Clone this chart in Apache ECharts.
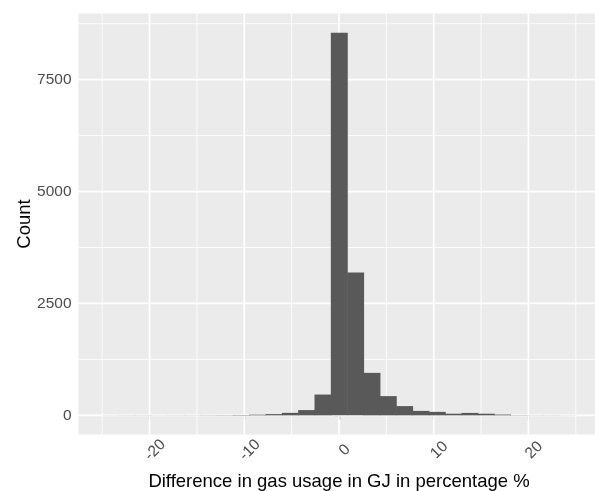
<!DOCTYPE html>
<html><head><meta charset="utf-8">
<script src="https://cdn.jsdelivr.net/npm/echarts@6/dist/echarts.min.js"></script>
<style>html,body{margin:0;padding:0;background:#fff}#c{width:595px;height:491px}</style>
</head><body><div id="c"></div>
<script>
// Histogram bins: range and counts per bin
const binMin = -25, binMax = 25;
const counts = [2, 3, 3, 2, 3, 3, 4, 5, 8, 15, 28, 56, 118, 465, 8550, 3190, 950, 430, 207, 100, 78, 37, 55, 37, 18, 5, 3, 3, 2];
// Axis ticks / grid
const xTicks = [-20, -10, 0, 10, 20];
const xMinorGrid = [-25, -15, -5, 5, 15, 25];
const yTicks = [0, 2500, 5000, 7500];
const yMinorGrid = [1250, 3750, 6250, 8750];
const xLimits = [-27.5, 27.5];
const yLimits = [-427.5, 8977.5];

const FONT = 'Liberation Sans, Arial, sans-serif';
const binW = (binMax - binMin) / counts.length;
const barData = counts.map((c, i) => [binMin + i * binW, binMin + (i + 1) * binW, c]);

const vGrid = xTicks.map(v => [v, 0, 1.7]).concat(xMinorGrid.map(v => [v, 0, 0.85]));
const hGrid = yTicks.map(v => [0, v, 1.7]).concat(yMinorGrid.map(v => [0, v, 0.85]));

const chart = echarts.init(document.getElementById('c'), null, {renderer: 'canvas'});
chart.setOption({
  animation: false,
  backgroundColor: '#ffffff',
  grid: {left: 78.5, top: 13.5, width: 521, height: 421, show: true, backgroundColor: '#EBEBEB', borderWidth: 0,
    containLabel: false, outerBoundsMode: 'none'},
  xAxis: {
    type: 'value', min: xLimits[0], max: xLimits[1],
    axisLine: {show: false},
    axisTick: {show: true, length: 4, customValues: xTicks, lineStyle: {color: '#333333', width: 1.2}},
    axisLabel: {customValues: xTicks, rotate: 45, align: 'center', verticalAlign: 'top', margin: 10,
      formatter: v => String(v), color: '#4D4D4D', fontSize: 15.5, fontFamily: FONT},
    splitLine: {show: false},
    name: 'Difference in gas usage in GJ in percentage %',
    nameLocation: 'middle', nameGap: 38, nameMoveOverlap: false,
    nameTextStyle: {color: '#000', fontSize: 18.5, fontFamily: FONT}
  },
  yAxis: {
    type: 'value', min: yLimits[0], max: yLimits[1],
    axisLine: {show: false},
    axisTick: {show: true, length: 4, customValues: yTicks, lineStyle: {color: '#333333', width: 1.2}},
    axisLabel: {customValues: yTicks, margin: 7, formatter: v => String(v), color: '#4D4D4D', fontSize: 15.5, fontFamily: FONT},
    splitLine: {show: false},
    name: 'Count',
    nameLocation: 'middle', nameGap: 44, nameMoveOverlap: false,
    nameTextStyle: {color: '#000', fontSize: 18.5, fontFamily: FONT}
  },
  series: [
    {
      type: 'custom', z: 1, silent: true, data: vGrid,
      encode: {x: 0, y: 1},
      renderItem: (params, api) => {
        const cs = params.coordSys;
        const x = api.coord([api.value(0), 0])[0];
        return {type: 'line', shape: {x1: x, y1: cs.y, x2: x, y2: cs.y + cs.height}, style: {stroke: '#ffffff', lineWidth: api.value(2)}};
      }
    },
    {
      type: 'custom', z: 1, silent: true, data: hGrid,
      encode: {x: 0, y: 1},
      renderItem: (params, api) => {
        const cs = params.coordSys;
        const y = api.coord([0, api.value(1)])[1];
        return {type: 'line', shape: {x1: cs.x, y1: y, x2: cs.x + cs.width, y2: y}, style: {stroke: '#ffffff', lineWidth: api.value(2)}};
      }
    },
    {
      type: 'custom', z: 2, data: barData,
      encode: {x: [0, 1], y: 2},
      renderItem: (params, api) => {
        const p0 = api.coord([api.value(0), api.value(2)]);
        const p1 = api.coord([api.value(1), 0]);
        return {type: 'rect', shape: {x: p0[0], y: p0[1], width: p1[0] - p0[0] + 0.6, height: p1[1] - p0[1]}, style: {fill: '#595959'}};
      }
    }
  ]
});
</script></body></html>
